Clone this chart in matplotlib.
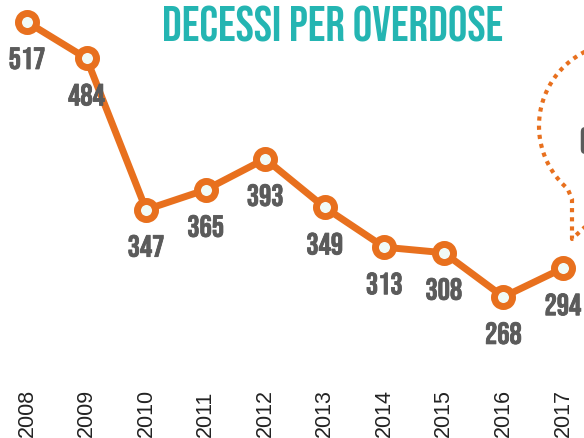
import numpy as np
from matplotlib import pyplot as plt
from matplotlib import patheffects as pe

years = [2008, 2009, 2010, 2011, 2012, 2013, 2014, 2015, 2016, 2017]
deaths = [517, 484, 347, 365, 393, 349, 313, 308, 268, 294]
title = "DECESSI PER OVERDOSE"

W, H = 584, 439
orange = '#e8701e'
teal = '#24b5b2'
grey = '#5b5b5b'
cond = ['Bebas Neue', 'Oswald', 'DejaVu Sans']

fig = plt.figure(figsize=(W / 100, H / 100), dpi=100)
ax = fig.add_axes([0, 0, 1, 1])
ax.set_xlim(2007.547, 2017.353)
ax.set_ylim(140.2, 537.8)
ax.axis('off')

ax.plot(years, deaths, color=orange, lw=5, marker='o', ms=13, mew=5,
        mfc='#f1faf6', mec=orange, solid_capstyle='round', zorder=3)

bold = [pe.withStroke(linewidth=0.6, foreground=grey)]  # Bebas is a bit light
for x, v in zip(years, deaths):  # value labels under the points
    ax.annotate(str(v), (x, v), xytext=(0, -47), textcoords='offset pixels',
                ha='center', va='baseline', fontsize=22, family=cond, color=grey,
                path_effects=bold)

for x in years:  # rotated year labels at the bottom
    ax.text(x, 0.004, str(x), transform=ax.get_xaxis_transform(), rotation=90,
            ha='center', va='bottom', fontsize=15.5, family='Liberation Sans', color='#222222')

fig.text(333 / W, 1 - 41 / H, title, ha='center', va='baseline', fontsize=35,
         family=cond, color=teal)

# dotted speech bubble on the right edge
t = np.radians(np.linspace(115, 229, 60))
bx = list(622 + 83 * np.cos(t)) + [572, 572, 586]
by = list(312 + 83 * np.sin(t)) + [239, 199, 212]
bx = np.array(bx) / W
by = np.array(by) / H
fig.add_artist(plt.Line2D(bx, by, transform=fig.transFigure, color=orange, lw=3,
                          ls=(0, (1, 1.2)), dash_capstyle='butt'))
fig.text(578 / W, 1 - 140 / H, "(", ha='left', va='center', fontsize=24,
         family=cond, color=grey)

fig.savefig('out.png', dpi=100)
